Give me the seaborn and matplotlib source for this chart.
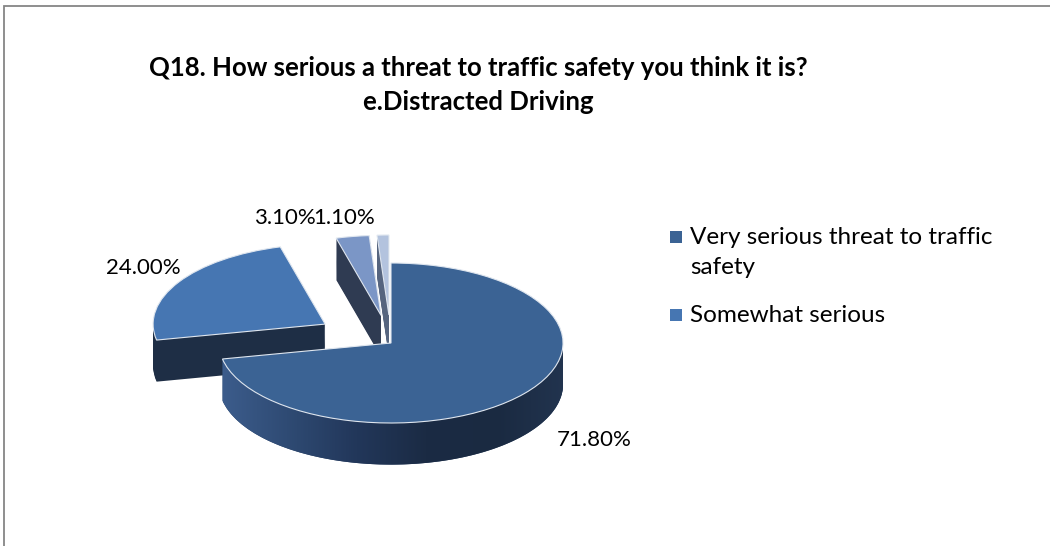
import numpy as np
import matplotlib
matplotlib.use("Agg")
import matplotlib.pyplot as plt
from matplotlib.patches import Rectangle, PathPatch
from matplotlib.path import Path
from matplotlib.colors import LinearSegmentedColormap
import seaborn as sns

# ---- data ----
categories = ["Very serious threat to traffic safety", "Somewhat serious",
              "Not very serious", "Not a threat"]
values = [71.8, 24.0, 3.1, 1.1]
value_labels = ["71.80%", "24.00%", "3.10%", "1.10%"]
legend_labels = ["Very serious threat to traffic\nsafety", "Somewhat serious"]
title_lines = ["Q18. How serious a threat to traffic safety you think it is?",
               "e.Distracted Driving"]

top_colors = sns.color_palette(["#3b6394", "#4676b2", "#7b96c6", "#b3c3de"])
side_colors = sns.color_palette(["#263d5f", "#1e2e45", "#2f3b52", "#56657f"])
explode = [0.0, 0.45, 0.35, 0.35]

sns.set_theme(style="white")
plt.rcParams['font.family'] = ['Lato', 'DejaVu Sans']

W, H = 1050, 546
fig = plt.figure(figsize=(W / 100, H / 100), dpi=100)
fig.patch.set_facecolor("white")

# pie axes: 1 unit = rx px horizontally, ry px vertically (tilted look)
rx, ry = 172, 80
cx, cy = 391, 343
ax = fig.add_axes([(cx - 2 * rx) / W, (H - cy - 2 * ry) / H, 4 * rx / W, 4 * ry / H])

depth = 0.52
n = 40
for i in range(n):
    off = -depth * (1 - i / n)
    ax.pie(values, startangle=90, counterclock=False, explode=explode,
           colors=side_colors, center=(0, off), radius=1,
           wedgeprops=dict(linewidth=0, antialiased=True))

# shaded front wall of the largest slice (gradient), derived from its angles
start_deg = 90 - 360 * values[0] / sum(values)   # clockwise end of slice 1
theta = np.radians(np.linspace(max(start_deg, -180), 0, 120))
upper = np.column_stack([np.cos(theta), np.sin(theta)])
lower = np.column_stack([np.cos(theta[::-1]), np.sin(theta[::-1]) - depth])
verts = np.vstack([upper, lower, upper[:1]])
wall = PathPatch(Path(verts, closed=True), facecolor="none", edgecolor="none",
                 transform=ax.transData)
ax.add_patch(wall)
cmap = LinearSegmentedColormap.from_list(
    "wall", ["#3d5e8e", "#2f4b74", "#22375a", "#1b2b44", "#1a2a41", "#22344f"])
grad = np.linspace(0, 1, 256).reshape(1, -1)
im = ax.imshow(grad, extent=[-1.02, 1.02, -depth - 1.1, 0.1], cmap=cmap,
               aspect="auto", zorder=1.5)
im.set_clip_path(wall)

ax.pie(values, startangle=90, counterclock=False, explode=explode,
       colors=top_colors, center=(0, 0), radius=1,
       wedgeprops=dict(linewidth=0.8, edgecolor="#dfe6ef", zorder=2))
ax.set_aspect("auto")
ax.set_xlim(-2, 2)
ax.set_ylim(-2, 2)
ax.axis("off")

# data labels
label_pos = [(594, 440), (143, 268), (285, 218), (344, 218)]
for (x, y), t in zip(label_pos, value_labels):
    fig.text(x / W, 1 - y / H, t, ha="center", va="center", fontsize=16, color="black")

# title
fig.text(478 / W, 1 - 68 / H, title_lines[0], ha="center", va="center",
         fontsize=18.5, fontweight="bold", color="black")
fig.text(478 / W, 1 - 102 / H, title_lines[1], ha="center", va="center",
         fontsize=18.5, fontweight="bold", color="black")

# legend (first two entries visible)
leg_y = [237, 315]
for y, lab, col in zip(leg_y, legend_labels, top_colors[:2]):
    fig.patches.append(Rectangle(((670) / W, 1 - (y + 6) / H), 12 / W, 12 / H,
                                 transform=fig.transFigure, facecolor=col,
                                 edgecolor="none"))
    fig.text(690 / W, 1 - y / H, lab.split("\n")[0], ha="left", va="center",
             fontsize=17.5, color="black")
    for k, extra in enumerate(lab.split("\n")[1:], start=1):
        fig.text(690 / W, 1 - (y + 31 * k) / H, extra, ha="left", va="center",
                 fontsize=17.5, color="black")

# chart frame (partly cut off)
fig.patches.append(Rectangle((3.5 / W, -0.1), 1.2, (H - 5.5) / H + 0.1,
                             transform=fig.transFigure, fill=False,
                             edgecolor="#868686", linewidth=1.3))

fig.savefig("out.png", dpi=100, facecolor="white")
